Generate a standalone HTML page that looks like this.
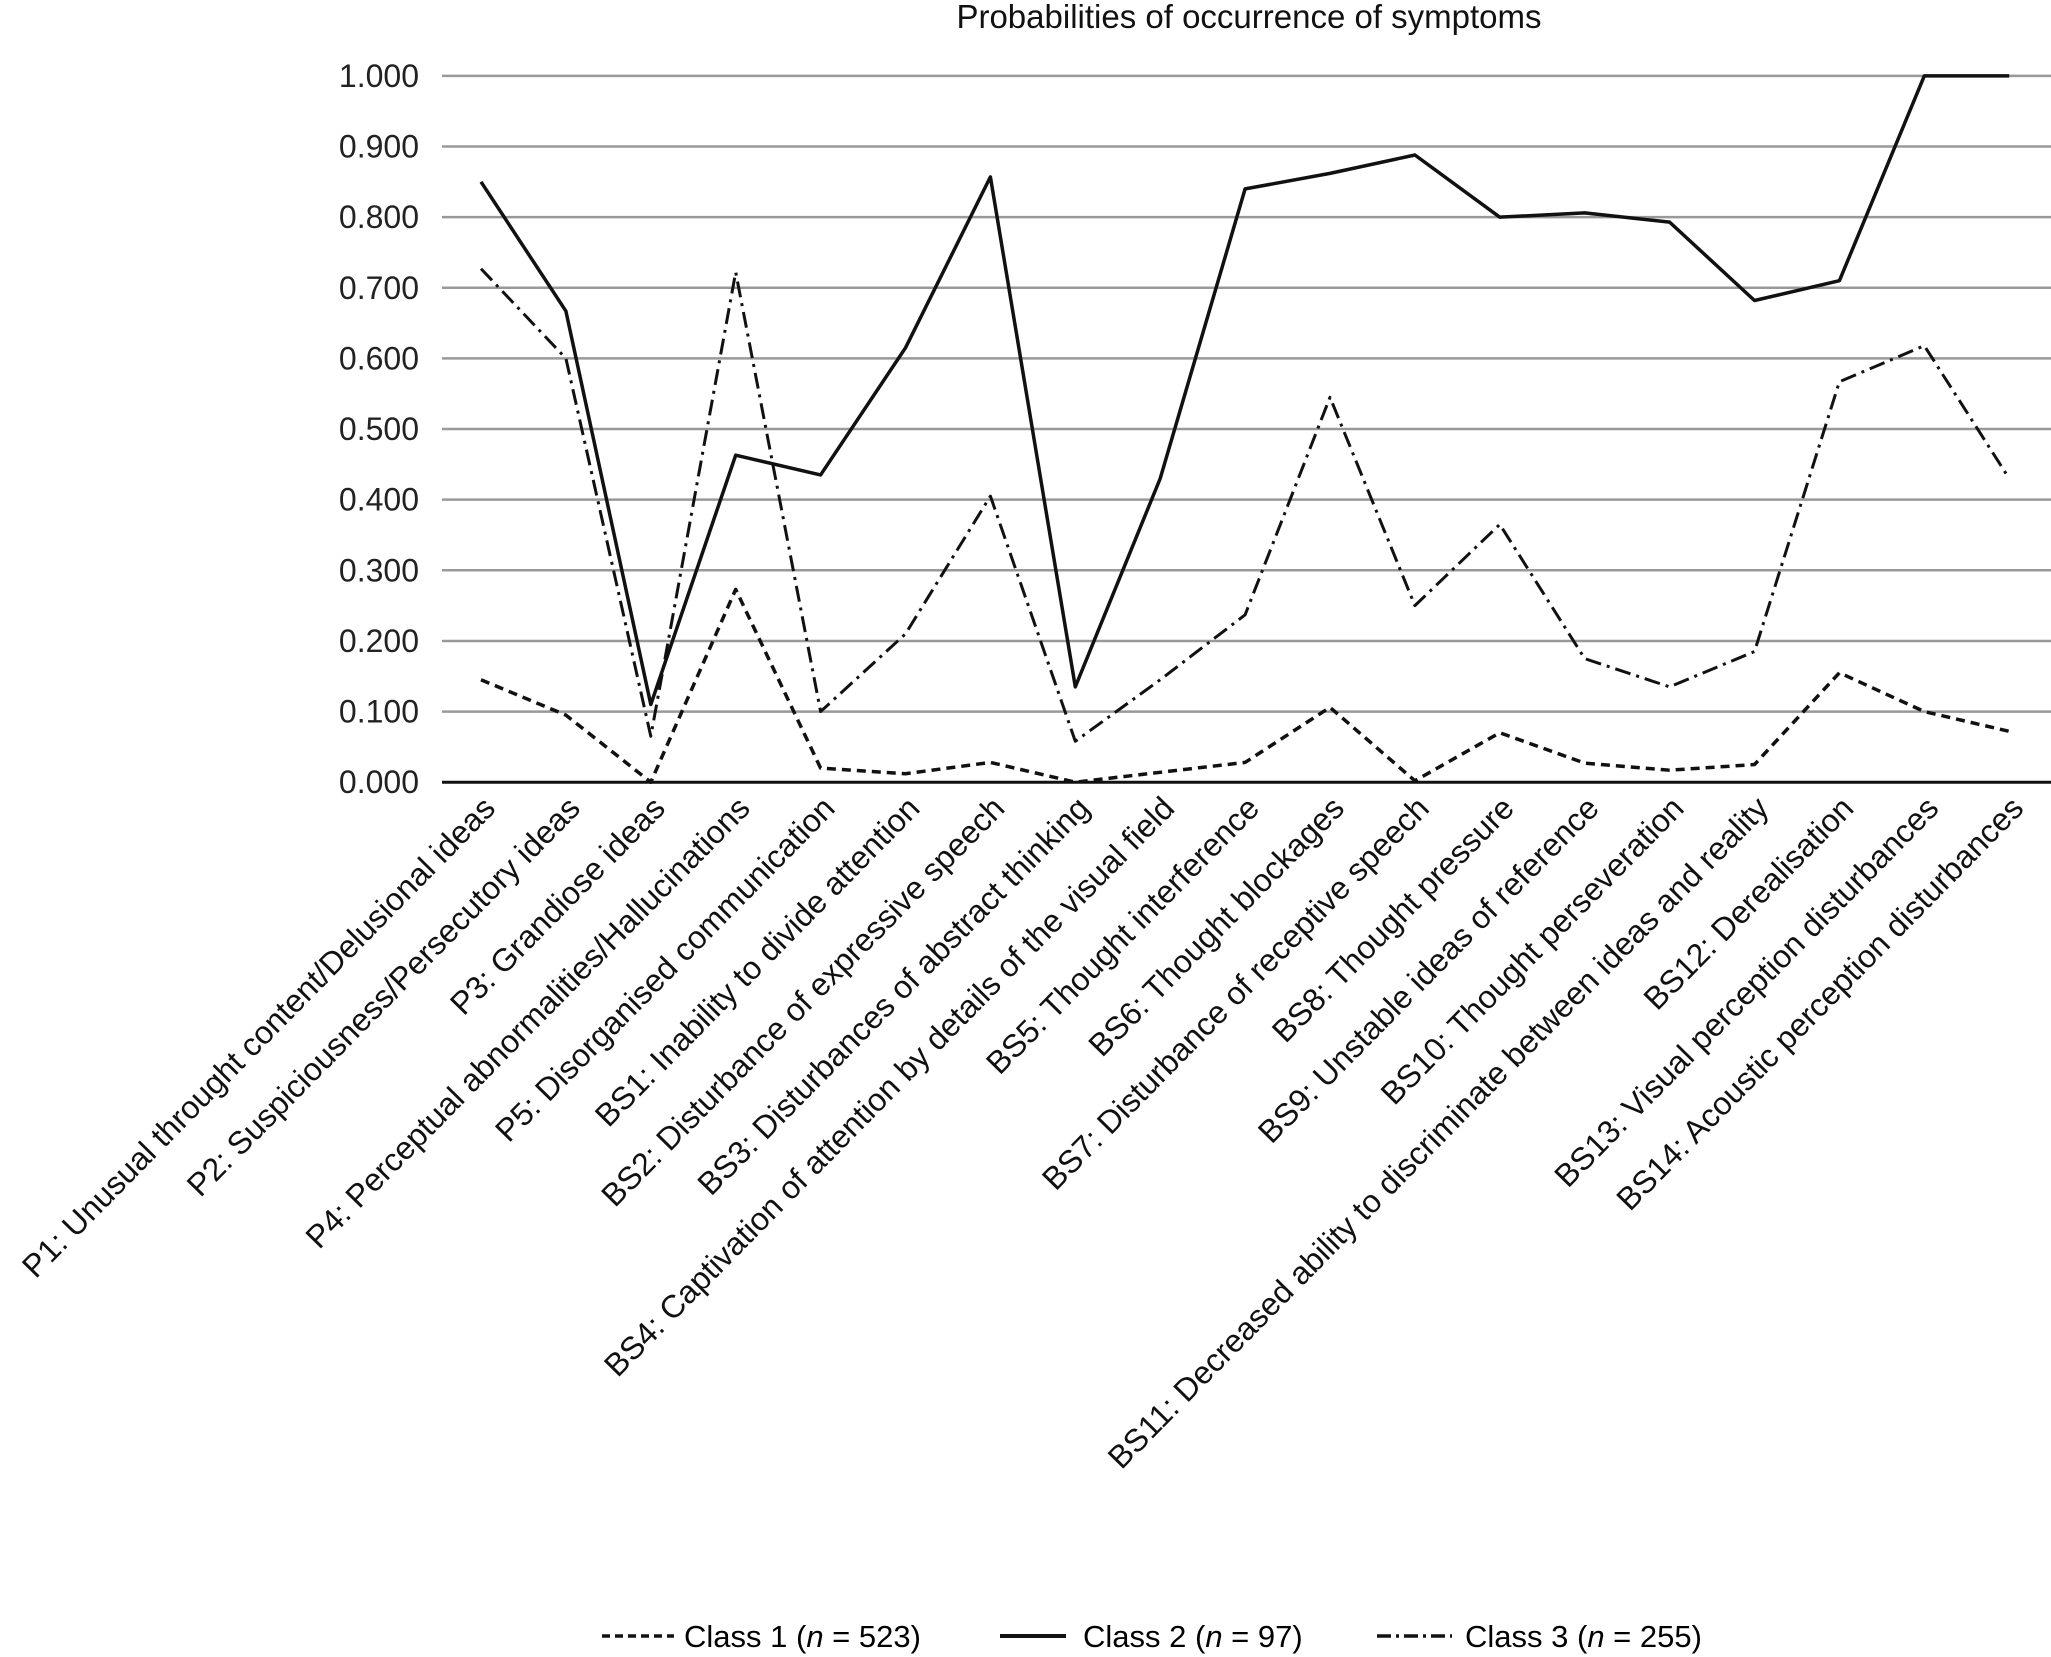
<!DOCTYPE html>
<html><head><meta charset="utf-8"><style>
html,body{margin:0;padding:0;background:#fff;}
svg{display:block;font-family:"Liberation Sans",sans-serif;}
</style></head><body>
<svg id="chart" width="2051" height="1657" viewBox="0 0 2051 1657" xmlns="http://www.w3.org/2000/svg">
<text x="1249" y="28" font-size="33" text-anchor="middle" fill="#111">Probabilities of occurrence of symptoms</text>
<g id="grid"></g><g id="ylabels"></g><g id="xlabels"></g><g id="series"></g>
<g id="legend">
<line x1="602" y1="1636" x2="674" y2="1636" stroke="#111" stroke-width="3.5" stroke-dasharray="8,5"/>
<text x="684" y="1647" font-size="31">Class 1 (<tspan font-style="italic">n</tspan> = 523)</text>
<line x1="1000" y1="1636" x2="1066" y2="1636" stroke="#111" stroke-width="4"/>
<text x="1083" y="1647" font-size="31">Class 2 (<tspan font-style="italic">n</tspan> = 97)</text>
<line x1="1377" y1="1636" x2="1452" y2="1636" stroke="#111" stroke-width="3.5" stroke-dasharray="14,5,3,5"/>
<text x="1465" y="1647" font-size="31">Class 3 (<tspan font-style="italic">n</tspan> = 255)</text>
</g>
</svg>
<script>
const categories=["P1: Unusual throught content/Delusional ideas","P2: Suspiciousness/Persecutory ideas","P3: Grandiose ideas","P4: Perceptual abnormalities/Hallucinations","P5: Disorganised communication","BS1: Inability to divide attention","BS2: Disturbance of expressive speech","BS3: Disturbances of abstract thinking","BS4: Captivation of attention by details of the visual field","BS5: Thought interference","BS6: Thought blockages","BS7: Disturbance of receptive speech","BS8: Thought pressure","BS9: Unstable ideas of reference","BS10: Thought perseveration","BS11: Decreased ability to discriminate between ideas and reality","BS12: Derealisation","BS13: Visual perception disturbances","BS14: Acoustic perception disturbances"];
const class1=[0.145,0.095,0.0,0.273,0.02,0.012,0.028,0.0,0.014,0.028,0.106,0.002,0.07,0.027,0.017,0.025,0.155,0.10,0.072];
const class2=[0.85,0.667,0.11,0.463,0.435,0.615,0.857,0.135,0.43,0.84,0.862,0.888,0.80,0.806,0.793,0.682,0.71,1.0,1.0];
const class3=[0.727,0.60,0.065,0.722,0.10,0.21,0.405,0.058,0.145,0.237,0.545,0.25,0.365,0.175,0.135,0.185,0.567,0.618,0.43];
const yTicks=[0,0.1,0.2,0.3,0.4,0.5,0.6,0.7,0.8,0.9,1.0];
const NS="http://www.w3.org/2000/svg";
const y=v=>782.2-v*(782.2-75.9);
const x=i=>481+i*84.9;
function mk(t,a,p){const e=document.createElementNS(NS,t);for(const k in a)e.setAttribute(k,a[k]);p.appendChild(e);return e;}
const grid=document.getElementById('grid'),yl=document.getElementById('ylabels'),xl=document.getElementById('xlabels'),ser=document.getElementById('series');
yTicks.forEach(v=>{
 const l=mk('line',{x1:442,x2:2051,y1:y(v),y2:y(v),stroke:v===0?'#111':'#999','stroke-width':v===0?3:2.5},grid);
 
 
 const t=mk('text',{x:419,y:y(v)+11,'font-size':32,'text-anchor':'end',fill:'#222'},yl);
 t.textContent=v.toFixed(3);
 
 
});
categories.forEach((c,i)=>{
 const t=mk('text',{transform:`translate(${x(i)+16},810) rotate(-45.5)`,'font-size':32,'text-anchor':'end',fill:'#111'},xl);
 t.textContent=c;
 
 
});
[[class1,'9,6',3.5,'class-1-line'],[class2,'',3.5,'class-2-line'],[class3,'16,6,3,6',3,'class-3-line']].forEach(([d,dash,w,n])=>{
 const p=mk('polyline',{points:d.map((v,i)=>x(i)+','+y(v)).join(' '),fill:'none',stroke:'#111','stroke-width':w,'stroke-dasharray':dash,'stroke-linejoin':'round'},ser);
 
 
});
</script>
</body></html>
